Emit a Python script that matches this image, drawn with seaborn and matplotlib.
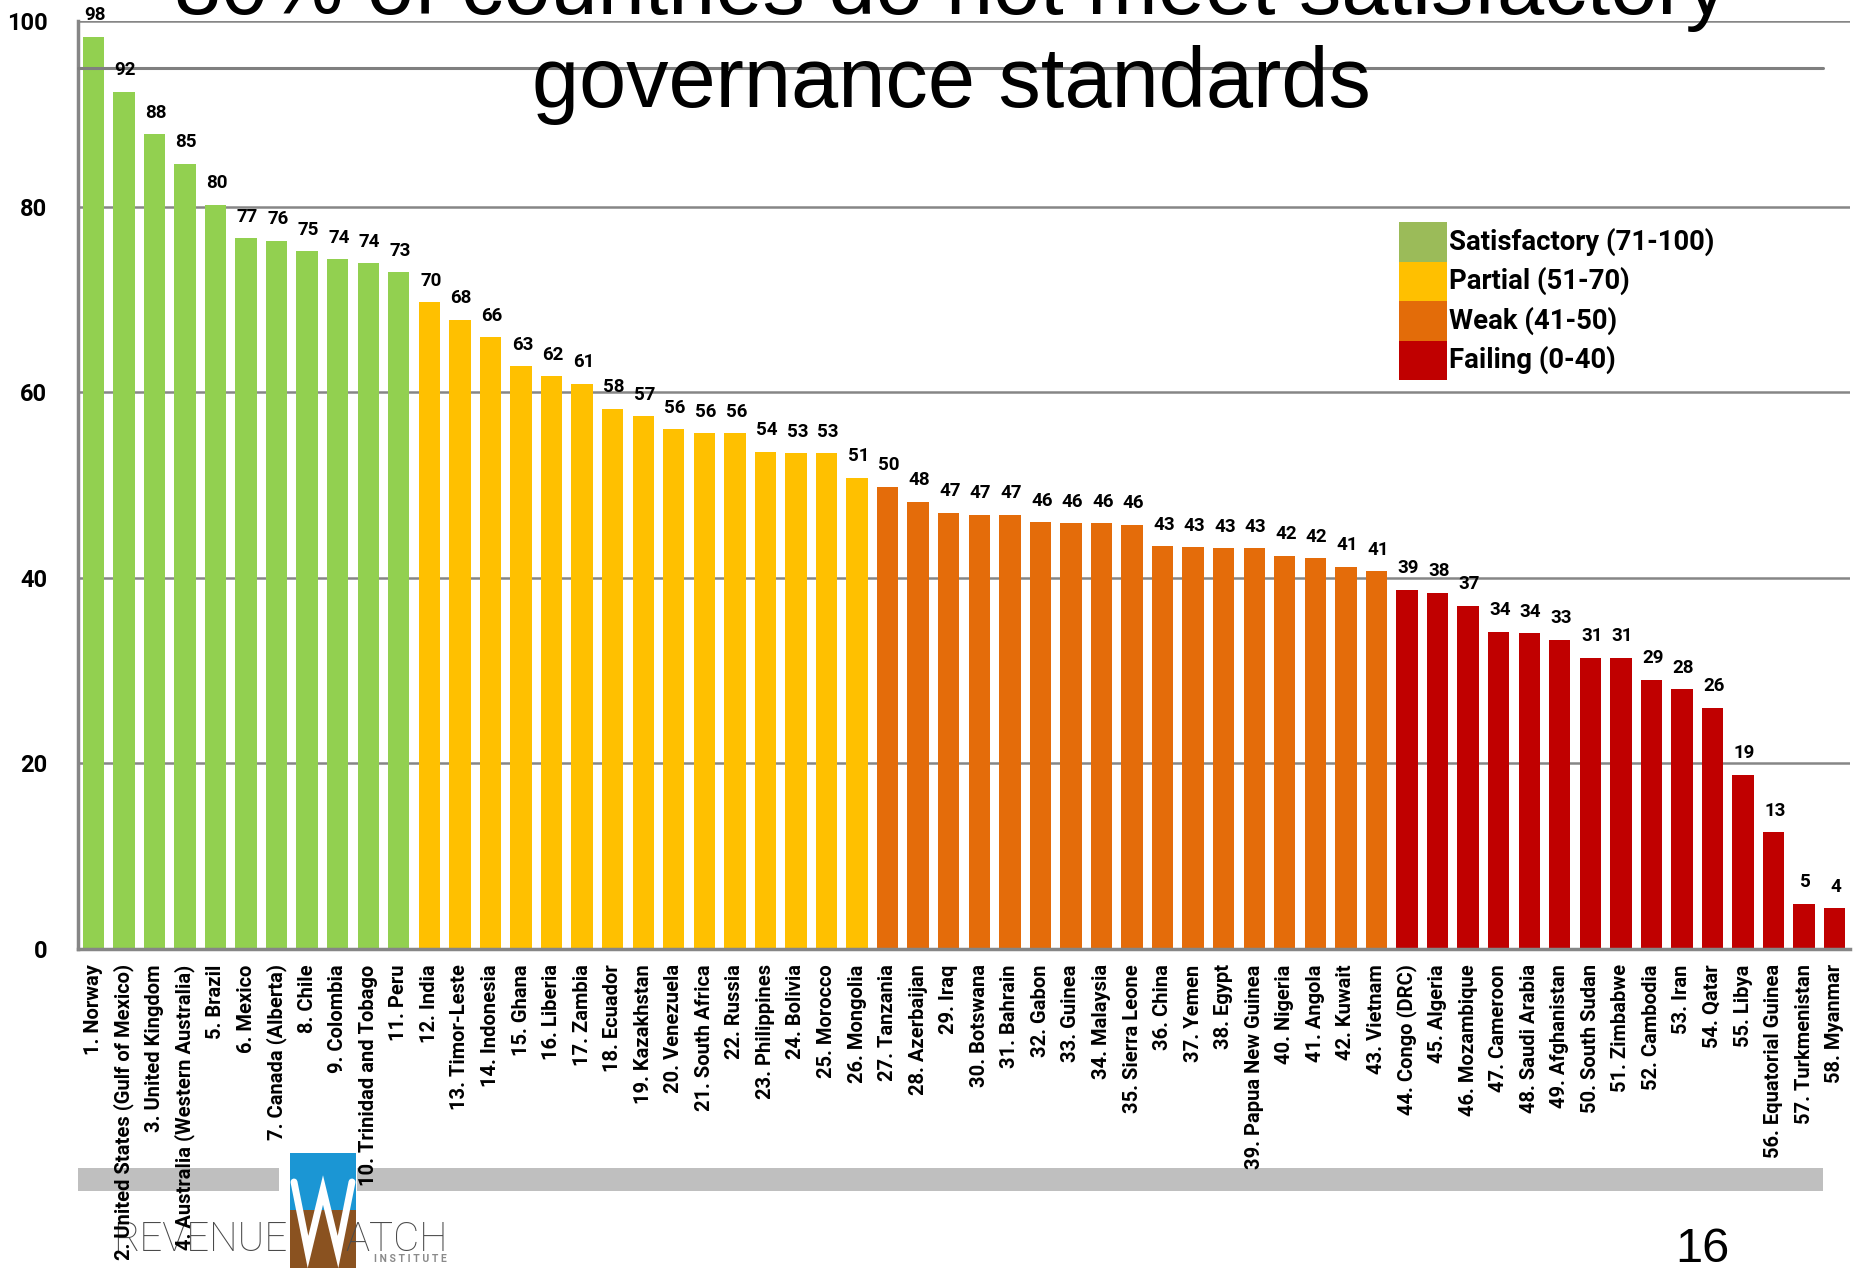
import numpy as np
import pandas as pd
import matplotlib
matplotlib.use('Agg')
import matplotlib.pyplot as plt
import seaborn as sns
from matplotlib.patches import Rectangle
from matplotlib.lines import Line2D

# Resource governance scores, 58 countries
countries = ['Norway', 'United States (Gulf of Mexico)', 'United Kingdom',
             'Australia (Western Australia)', 'Brazil', 'Mexico', 'Canada (Alberta)',
             'Chile', 'Colombia', 'Trinidad and Tobago', 'Peru', 'India', 'Timor-Leste',
             'Indonesia', 'Ghana', 'Liberia', 'Zambia', 'Ecuador', 'Kazakhstan',
             'Venezuela', 'South Africa', 'Russia', 'Philippines', 'Bolivia', 'Morocco',
             'Mongolia', 'Tanzania', 'Azerbaijan', 'Iraq', 'Botswana', 'Bahrain', 'Gabon',
             'Guinea', 'Malaysia', 'Sierra Leone', 'China', 'Yemen', 'Egypt',
             'Papua New Guinea', 'Nigeria', 'Angola', 'Kuwait', 'Vietnam', 'Congo (DRC)',
             'Algeria', 'Mozambique', 'Cameroon', 'Saudi Arabia', 'Afghanistan',
             'South Sudan', 'Zimbabwe', 'Cambodia', 'Iran', 'Qatar', 'Libya',
             'Equatorial Guinea', 'Turkmenistan', 'Myanmar']
scores = [98.3, 92.4, 87.8, 84.6, 80.2, 76.6, 76.3, 75.2, 74.3, 73.9, 72.9, 69.7,
          67.8, 65.9, 62.8, 61.7, 60.9, 58.2, 57.4, 56.0, 55.6, 55.6, 53.6, 53.4,
          53.4, 50.8, 49.8, 48.2, 47.0, 46.8, 46.8, 46.0, 45.9, 45.9, 45.7, 43.4,
          43.3, 43.2, 43.2, 42.4, 42.1, 41.2, 40.7, 38.7, 38.4, 37.0, 34.2, 34.0,
          33.3, 31.4, 31.4, 29.0, 28.0, 26.0, 18.8, 12.6, 4.9, 4.4]

legend_labels = ['Satisfactory (71-100)', 'Partial (51-70)', 'Weak (41-50)', 'Failing (0-40)']
legend_colors = ['#9BBB59', '#FFC000', '#E36C09', '#C00000']
bar_palette = ['#92D050', '#FFC000', '#E46C0A', '#C00000']

def rating(v):
    v = round(v)
    if v >= 71:
        return 0
    if v >= 51:
        return 1
    if v >= 41:
        return 2
    return 3

labels = [f"{i + 1}. {c}" for i, c in enumerate(countries)]
df = pd.DataFrame({'label': labels, 'score': scores})
bar_colors = [bar_palette[rating(v)] for v in scores]

sns.set_theme(style='white')
plt.rcParams['font.family'] = ['Roboto', 'DejaVu Sans']
plt.rcParams['text.color'] = 'black'
plt.rcParams['xtick.color'] = 'black'
plt.rcParams['ytick.color'] = 'black'

W, H = 1860, 1274
fig = plt.figure(figsize=(18.6, 12.74), dpi=100)
ax = fig.add_axes([78 / W, 1 - 949 / H, (1850 - 78) / W, (949 - 21) / H])

sns.barplot(data=df, x='label', y='score', hue='label', palette=bar_colors,
            saturation=1, width=0.7, linewidth=0, legend=False, ax=ax, zorder=2)

ax.set_xlim(-0.5, len(scores) - 0.5)
ax.set_ylim(0, 100)
ax.set_yticks(range(0, 101, 20))
ax.set_yticklabels([str(t) for t in range(0, 101, 20)], fontsize=17, fontweight='bold')
ax.grid(axis='y', color='#868686', lw=1.8)
ax.set_axisbelow(True)
ax.set_xlabel('')
ax.set_ylabel('')
for s in ['top', 'right']:
    ax.spines[s].set_visible(False)
for s in ['left', 'bottom']:
    ax.spines[s].set_color('#868686')
    ax.spines[s].set_linewidth(2.5)

ax.set_xticks(range(len(labels)))
ax.set_xticklabels(labels, rotation=90, fontsize=14.5, fontweight='bold')
ax.set_xticks(np.arange(-0.5, len(labels), 1), minor=True)
ax.tick_params(axis='x', which='major', length=0, pad=11)
ax.tick_params(axis='x', which='minor', length=7, width=2, color='#868686', direction='out')
ax.tick_params(axis='y', length=0, pad=22)

for i, v in enumerate(scores):
    ax.annotate(f"{v:.0f}", (i, v), xytext=(1, 9), textcoords='offset points',
                ha='center', va='bottom', fontsize=13.5, fontweight='bold', zorder=4)

# slide title (first line runs off the top)
fig.text(951 / W, 1 - 14 / H, '80% of countries do not meet satisfactory',
         ha='center', va='baseline', fontsize=61, family='Liberation Sans', color='black')
fig.text(951 / W, 1 - 107 / H, 'governance standards',
         ha='center', va='baseline', fontsize=61, family='Liberation Sans', color='black')
ax.add_line(Line2D([78 / W, 1823 / W], [1 - 67.6 / H] * 2, transform=fig.transFigure,
                   color='#7f7f7f', lw=2.2, clip_on=False, zorder=3))

# legend
top = 222
step = (380 - 222) / 4
for k, (lab, col) in enumerate(zip(legend_labels, legend_colors)):
    y0 = top + k * step
    fig.patches.append(Rectangle((1399 / W, 1 - (y0 + step) / H), 48 / W, step / H,
                                 transform=fig.transFigure, facecolor=col, edgecolor='none'))
    fig.text(1449 / W, 1 - (y0 + step / 2) / H, lab, ha='left', va='center',
             fontsize=19.8, fontweight='bold')

# footer band and logo
band = '#BFBFBF'
fig.patches.append(Rectangle((78 / W, 1 - 1191 / H), (279 - 78) / W, 23 / H,
                             transform=fig.transFigure, facecolor=band, edgecolor='none', zorder=-1))
fig.patches.append(Rectangle((357 / W, 1 - 1191 / H), (1823 - 357) / W, 23 / H,
                             transform=fig.transFigure, facecolor=band, edgecolor='none', zorder=-1))
fig.patches.append(Rectangle((290 / W, 1 - 1210 / H), 66 / W, 57 / H,
                             transform=fig.transFigure, facecolor='#1B96D4', edgecolor='none', zorder=-1))
fig.patches.append(Rectangle((290 / W, 1 - 1268 / H), 66 / W, 58 / H,
                             transform=fig.transFigure, facecolor='#8A5220', edgecolor='none', zorder=-1))
wx = [294, 308, 323, 338, 352]
wy = [1182, 1252, 1190, 1252, 1182]
fig.add_artist(Line2D([x / W for x in wx], [1 - y / H for y in wy], color='white', lw=5,
                      solid_joinstyle='miter', zorder=-0.5))
fig.text(287 / W, 1 - 1251 / H, 'REVENUE', ha='right', va='baseline', fontsize=29,
         family='Roboto', fontweight='light', color='#4a4a4a', zorder=-0.5)
fig.text(345 / W, 1 - 1251 / H, 'ATCH', ha='left', va='baseline', fontsize=29,
         family='Roboto', fontweight='light', color='#4a4a4a', zorder=-0.5)
fig.text(410 / W, 1 - 1259 / H, 'I N S T I T U T E', ha='center', va='center', fontsize=7.5,
         family='Roboto', fontweight='bold', color='#8a8a8a', zorder=-0.5)

fig.text(1702 / W, 1 - 1262 / H, '16', ha='center', va='baseline', fontsize=35,
         family='Liberation Sans', color='black')

fig.savefig('out.png', dpi=100)
